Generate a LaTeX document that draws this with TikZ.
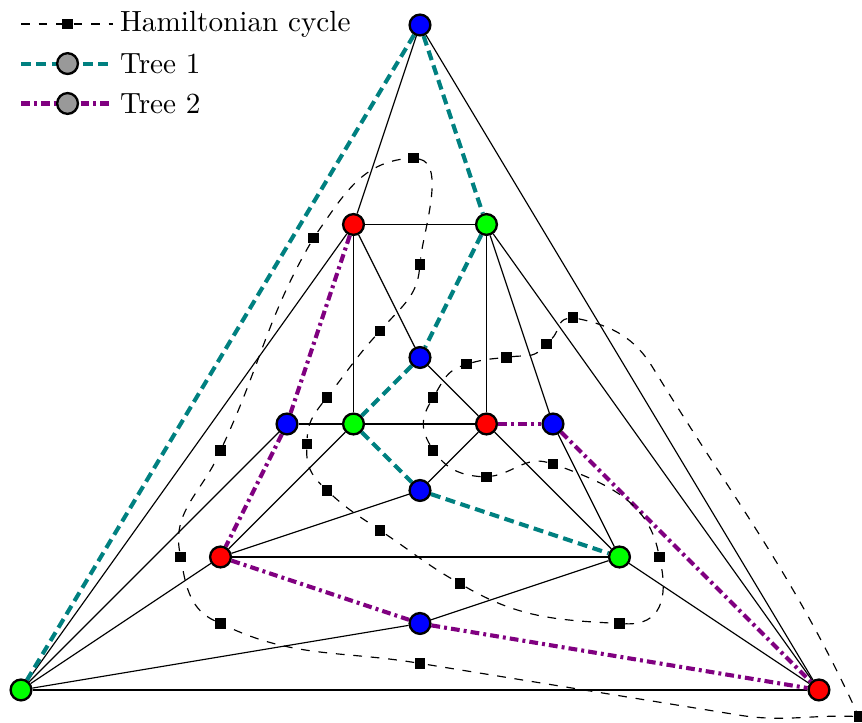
\documentclass[tikz,border=0pt]{standalone}
\usetikzlibrary{backgrounds}
\definecolor{treepurple}{RGB}{128,0,128}
\definecolor{treeteal}{RGB}{0,128,128}
\definecolor{markgray}{RGB}{153,153,153}
\tikzset{
  vtx/.style={circle, draw=black, line width=0.8pt, minimum size=0.25cm, inner sep=0pt},
  redv/.style={vtx, fill=red},
  greenv/.style={vtx, fill=green},
  bluev/.style={vtx, fill=blue},
  grayv/.style={vtx, fill=markgray},
  facemark/.style={rectangle, fill=black, minimum size=0.125cm, inner sep=0pt},
  edge/.style={draw=black, line width=0.4pt},
  treeone/.style={draw=treeteal, line width=1.4pt, dash pattern=on 3.4pt off 1.9pt},
  treetwo/.style={draw=treepurple, line width=1.4pt, dash pattern=on 3pt off 1.4pt on 1pt off 1.4pt},
  hamcycle/.style={draw=black, line width=0.4pt, dashed},
  legendtext/.style={anchor=west, inner sep=0pt, xshift=2.3pt},
}
\begin{document}
\begin{tikzpicture}[x=0.8cm, y=0.8cm]
\useasboundingbox (-6.316,-4.496) rectangle (6.647,6.376);

% vertices of the triangulation
\node[bluev]  (T) at (0,6) {};
\node[redv]   (A) at (-1,3) {};
\node[greenv] (B) at (1,3) {};
\node[bluev]  (C) at (0,1) {};
\node[bluev]  (D) at (-2,0) {};
\node[greenv] (E) at (-1,0) {};
\node[redv]   (F) at (1,0) {};
\node[bluev]  (G) at (2,0) {};
\node[bluev]  (H) at (0,-1) {};
\node[redv]   (I) at (-3,-2) {};
\node[greenv] (J) at (3,-2) {};
\node[bluev]  (K) at (0,-3) {};
\node[greenv] (L) at (-6,-4) {};
\node[redv]   (M) at (6,-4) {};

% one marker per face, in the order of the cycle
\node[facemark] (q1)  at (-0.1,4) {};
\node[facemark] (q2)  at (0,2.4) {};
\node[facemark] (q3)  at (-0.6,1.4) {};
\node[facemark] (q4)  at (-1.4,0.4) {};
\node[facemark] (q5)  at (-1.7,-0.3) {};
\node[facemark] (q6)  at (-1.4,-1) {};
\node[facemark] (q7)  at (-0.6,-1.6) {};
\node[facemark] (q8)  at (0.6,-2.4) {};
\node[facemark] (q9)  at (3,-3) {};
\node[facemark] (q10) at (3.6,-2) {};
\node[facemark] (q11) at (2,-0.6) {};
\node[facemark] (q12) at (1,-0.8) {};
\node[facemark] (q13) at (0.2,-0.4) {};
\node[facemark] (q14) at (0.2,0.4) {};
\node[facemark] (q15) at (0.7,0.9) {};
\node[facemark] (q16) at (1.3,1) {};
\node[facemark] (q17) at (1.9,1.2) {};
\node[facemark] (q18) at (2.3,1.6) {};
\node[facemark] (q19) at (6.6,-4.4) {};
\node[facemark] (q20) at (0,-3.6) {};
\node[facemark] (q21) at (-3,-3) {};
\node[facemark] (q22) at (-3.6,-2) {};
\node[facemark] (q23) at (-3,-0.4) {};
\node[facemark] (q24) at (-1.6,2.8) {};
\coordinate (p1) at (3.5,0.85);
\coordinate (p3) at (4.81,-4.38);

\begin{scope}[on background layer]
  % plain edges
  \draw[edge] (T) -- (A);  \draw[edge] (T) -- (M);
  \draw[edge] (A) -- (B);  \draw[edge] (A) -- (C);
  \draw[edge] (A) -- (E);  \draw[edge] (A) -- (L);
  \draw[edge] (B) -- (F);  \draw[edge] (B) -- (G);
  \draw[edge] (B) -- (M);  \draw[edge] (C) -- (F);
  \draw[edge] (D) -- (E);  \draw[edge] (D) -- (L);
  \draw[edge] (E) -- (F);  \draw[edge] (E) -- (I);
  \draw[edge] (F) -- (H);  \draw[edge] (F) -- (J);
  \draw[edge] (G) -- (J);  \draw[edge] (H) -- (I);
  \draw[edge] (I) -- (J);  \draw[edge] (I) -- (L);
  \draw[edge] (J) -- (K);  \draw[edge] (J) -- (M);
  \draw[edge] (K) -- (L);  \draw[edge] (L) -- (M);
  % first spanning tree
  \draw[treeone] (T) -- (L);
  \draw[treeone] (T) -- (B);
  \draw[treeone] (B) -- (C);
  \draw[treeone] (C) -- (E);
  \draw[treeone] (E) -- (H);
  \draw[treeone] (H) -- (J);
  % second spanning tree
  \draw[treetwo] (A) -- (D);
  \draw[treetwo] (D) -- (I);
  \draw[treetwo] (I) -- (K);
  \draw[treetwo] (K) -- (M);
  \draw[treetwo] (F) -- (G);
  \draw[treetwo] (G) -- (M);
  % Hamiltonian cycle through the faces
  \draw[hamcycle]
    (q1) to[out=-10,in=84,looseness=0.7] (q2)
    to[out=-96,in=48] (q3)
    to[out=-132,in=52] (q4)
    to[out=-128,in=88] (q5)
    to[out=-92,in=135] (q6)
    to[out=-42,in=146] (q7)
    to[out=-34,in=150] (q8)
    to[out=-30,in=177] (q9)
    to[out=-3,in=-78,looseness=1.3] (q10)
    to[out=102,in=-20] (q11)
    to[out=165,in=10] (q12)
    to[out=175,in=-51] (q13)
    to[out=120,in=-120,looseness=1.1] (q14)
    to[out=60,in=-160] (q15)
    to[out=15,in=-175] (q16)
    to[out=8,in=-135] (q17)
    to[out=45,in=-170] (q18)
    to[out=-12,in=121.5] (p1)
    to[out=-58.5,in=115] (q19)
    to[out=178,in=-9] (p3)
    -- (q20)
    to[out=171,in=-25] (q21)
    to[out=155,in=-80] (q22)
    to[out=100,in=-115] (q23)
    to[out=65,in=-120] (q24)
    to[out=55,in=-175] (q1);
\end{scope}

% legend
\coordinate (ha) at (-6,6.015);  \coordinate (hb) at (-4.62,6.015);
\coordinate (ta) at (-6,5.42);   \coordinate (tb) at (-4.62,5.42);
\coordinate (sa) at (-6,4.82);   \coordinate (sb) at (-4.62,4.82);
\draw[hamcycle] (ha) -- (hb);
\draw[treeone] (ta) -- (tb);
\draw[treetwo] (sa) -- (sb);
\node[facemark] (hm) at (-5.3,6.015) {};
\node[grayv] (tm) at (-5.3,5.42) {};
\node[grayv] (sm) at (-5.3,4.82) {};
\node[legendtext] (hl) at (hb) {Hamiltonian cycle};
\node[legendtext] (tl) at (tb) {Tree 1};
\node[legendtext] (sl) at (sb) {Tree 2};
\end{tikzpicture}
\end{document}
